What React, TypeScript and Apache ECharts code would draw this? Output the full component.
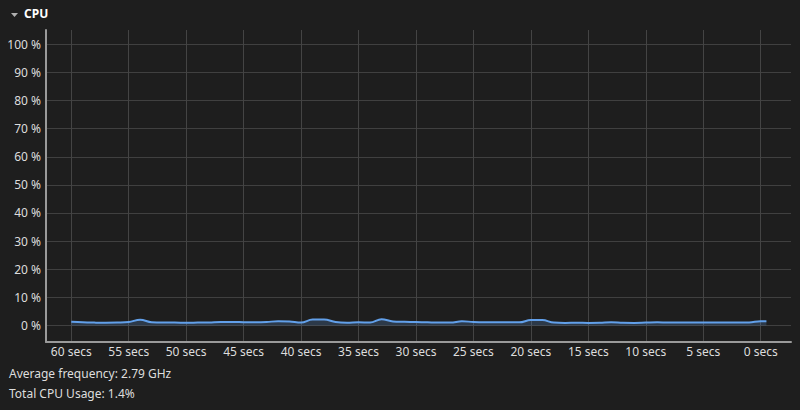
import React, { useEffect, useRef } from "react";
import * as echarts from "echarts";

// Seconds ago (x) and CPU usage in percent (y)
const times = [
  60, 59, 58, 57, 56, 55, 54, 53, 52, 51, 50, 49, 48, 47, 46, 45, 44, 43, 42, 41,
  40, 39, 38, 37, 36, 35, 34, 33, 32, 31, 30, 29, 28, 27, 26, 25, 24, 23, 22, 21,
  20, 19, 18, 17, 16, 15, 14, 13, 12, 11, 10, 9, 8, 7, 6, 5, 4, 3, 2, 1, 0, -0.5,
];
const cpuUsage = [
  1.3, 1.1, 1.0, 0.95, 1.0, 1.2, 2.0, 1.1, 1.0, 1.0, 0.95, 1.0, 1.05, 1.2, 1.2, 1.15, 1.1, 1.2, 1.5, 1.4,
  1.0, 2.1, 2.1, 1.2, 0.95, 1.1, 1.0, 2.2, 1.4, 1.3, 1.2, 1.1, 1.0, 1.0, 1.5, 1.2, 1.1, 1.1, 1.1, 1.1,
  1.9, 1.9, 1.0, 0.9, 0.95, 0.9, 0.95, 1.1, 0.95, 0.9, 1.0, 1.1, 1.0, 1.0, 1.05, 1.0, 1.0, 1.0, 1.0, 1.05, 1.5, 1.5,
];
const xTicks = [60, 55, 50, 45, 40, 35, 30, 25, 20, 15, 10, 5, 0];
const yTicks = [0, 10, 20, 30, 40, 50, 60, 70, 80, 90, 100];
const title = "CPU";
const avgFrequency = "Average frequency: 2.79 GHz";
const totalUsage = "Total CPU Usage: 1.4%";

const FONT = "'Noto Sans', 'DejaVu Sans', sans-serif";

export default function App() {
  const ref = useRef<HTMLDivElement>(null);

  useEffect(() => {
    document.body.style.margin = "0";
    document.body.style.background = "#1e1e1e";
    if (!ref.current) return;
    const chart = echarts.init(ref.current, undefined, { renderer: "svg" });
    const data = times.map((t, i) => [t, cpuUsage[i]]);

    chart.setOption({
      animation: false,
      backgroundColor: "#1e1e1e",
      textStyle: { fontFamily: FONT },
      grid: { left: 46, right: 9, top: 30, bottom: 68, containLabel: false },
      xAxis: {
        type: "value",
        inverse: true,
        min: -2.64,
        max: 62.2,
        splitNumber: 13,
        axisLine: { show: true, onZero: false, lineStyle: { color: "#9a9a9a", width: 2 } },
        axisTick: { show: false, customValues: xTicks },
        axisLabel: {
          customValues: xTicks,
          color: "#dddddd",
          fontSize: 12,
          fontFamily: FONT,
          margin: 3,
          formatter: (v: number) => `${v} secs`,
        },
        splitLine: {
          show: true,
          lineStyle: { color: "#444444", width: 1 },
        },
      },
      yAxis: {
        type: "value",
        min: -5.9,
        max: 105.1,
        splitNumber: 11,
        axisLine: { show: true, onZero: false, lineStyle: { color: "#9a9a9a", width: 2 } },
        axisTick: { show: false, customValues: yTicks },
        axisLabel: {
          customValues: yTicks,
          color: "#dddddd",
          fontSize: 12,
          fontFamily: FONT,
          margin: 5,
          formatter: (v: number) => `${v} %`,
        },
        splitLine: {
          show: true,
          lineStyle: { color: "#404040", width: 1 },
        },
      },
      series: [
        {
          type: "line",
          data,
          smooth: 0.4,
          showSymbol: false,
          symbol: "none",
          lineStyle: { color: "#62a0ea", width: 2 },
          areaStyle: { color: "rgba(98,160,234,0.3)", origin: 0 },
        },
      ],
      graphic: [
        {
          type: "polygon",
          shape: { points: [[11, 13], [18, 13], [14.5, 17]] },
          style: { fill: "#b0b0b0" },
        },
        {
          type: "text",
          left: 24,
          top: 7,
          style: { text: title, fill: "#ffffff", font: `bold 12px ${FONT}` },
        },
        {
          type: "text",
          left: 9,
          top: 367,
          style: { text: avgFrequency, fill: "#dddddd", font: `12px ${FONT}` },
        },
        {
          type: "text",
          left: 9,
          top: 387,
          style: { text: totalUsage, fill: "#dddddd", font: `12px ${FONT}` },
        },
      ],
    });

    return () => chart.dispose();
  }, []);

  return <div ref={ref} style={{ width: 800, height: 410 }} />;
}
